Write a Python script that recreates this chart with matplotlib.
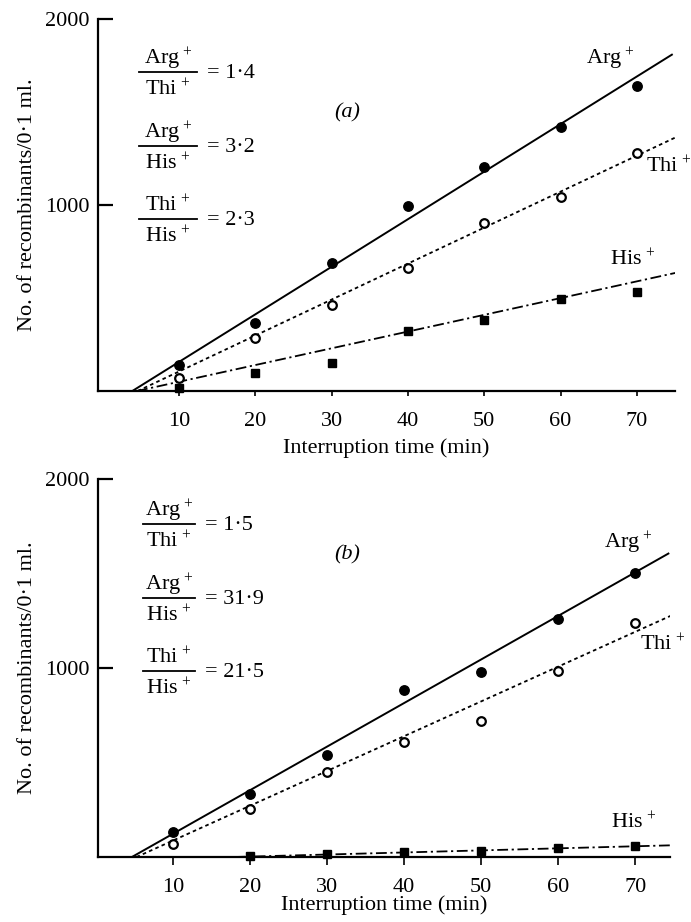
import matplotlib
matplotlib.use("Agg")
import matplotlib.pyplot as plt

plt.rcParams['font.family'] = ['Liberation Serif', 'DejaVu Serif']
plt.rcParams['mathtext.fontset'] = 'custom'
plt.rcParams['mathtext.rm'] = 'Liberation Serif'
plt.rcParams['mathtext.it'] = 'Liberation Serif:italic'

# ---- data ----
times = [10, 20, 30, 40, 50, 60, 70]
xtick_vals = [10, 20, 30, 40, 50, 60, 70]
ytick_vals = [1000, 2000]

a_arg = [140, 368, 686, 995, 1205, 1422, 1638]
a_thi = [70, 287, 460, 660, 903, 1043, 1281]
a_his = [15, 97, 151, 324, 384, 492, 530]
a_arg_fit_x, a_arg_fit_y = [3.9, 74.7], [0, 1811]
a_thi_fit_x, a_thi_fit_y = [4.6, 75.0], [0, 1362]
a_his_fit_x, a_his_fit_y = [4.5, 75.4], [0, 638]
a_ratios = [("Arg", "Thi", "1·4"), ("Arg", "His", "3·2"), ("Thi", "His", "2·3")]

b_arg = [133, 333, 540, 884, 979, 1259, 1503]
b_thi = [69, 254, 450, 608, 720, 984, 1238]
b_his_times = [20, 30, 40, 50, 60, 70]
b_his = [5, 16, 26, 32, 48, 58]
b_arg_fit_x, b_arg_fit_y = [4.7, 74.4], [0, 1608]
b_thi_fit_x, b_thi_fit_y = [5.3, 74.8], [0, 1280]
b_his_fit_x, b_his_fit_y = [18, 74.8], [0, 62]
b_ratios = [("Arg", "Thi", "1·5"), ("Arg", "His", "31·9"), ("Thi", "His", "21·5")]

W, H = 691, 922
fig = plt.figure(figsize=(W / 100, H / 100), dpi=100)


def px_ax(l, r, t, b):
    return fig.add_axes([l / W, 1 - b / H, (r - l) / W, (b - t) / H])


FS = 16
SUP = r"$^{\,+}$"


def style(ax, xlim, xlabelpad, xtlen):
    ax.set_xlim(*xlim)
    ax.set_ylim(0, 2000)
    for s in ['top', 'right']:
        ax.spines[s].set_visible(False)
    for s in ['left', 'bottom']:
        ax.spines[s].set_linewidth(1.6)
    ax.set_xticks(xtick_vals)
    ax.set_yticks(ytick_vals)
    ax.tick_params(axis='y', direction='in', length=11, width=1.6, labelsize=FS, pad=6)
    ax.tick_params(axis='x', direction='out', length=xtlen, width=1.2, labelsize=FS,
                   pad=15 - xtlen)
    ax.set_xlabel("Interruption time (min)", fontsize=FS, labelpad=xlabelpad)
    ax.set_ylabel("No. of recombinants/0·1 ml.", fontsize=FS, labelpad=6)


def ratios(items, bars_px, xl, xr, eq_x):
    for (n, d, v), by in zip(items, bars_px):
        cx = (xl + xr) / 2
        fig.text(cx / W, 1 - (by - 8) / H, n + SUP, ha='center', va='baseline', fontsize=FS)
        fig.text(cx / W, 1 - (by + 23) / H, d + SUP, ha='center', va='baseline', fontsize=FS)
        fig.add_artist(plt.Line2D([xl / W, xr / W], [1 - by / H, 1 - by / H], color='black', lw=1.3))
        fig.text(eq_x / W, 1 - (by + 6) / H, "= " + v, ha='left', va='baseline', fontsize=FS)


def panel(ax, arg, thi, his_t, his, afx, afy, tfx, tfy, hfx, hfy):
    ax.plot(afx, afy, color='black', lw=1.4, solid_capstyle='butt')
    ax.plot(tfx, tfy, color='black', lw=1.3, dashes=(2, 1.8))
    ax.plot(hfx, hfy, color='black', lw=1.3, dashes=(6, 2, 1.2, 2))
    ax.plot(times, arg, 'o', color='black', ms=6.8, clip_on=False, zorder=5)
    ax.plot(times, thi, 'o', mfc='white', mec='black', mew=1.6, ms=6.2, clip_on=False, zorder=5)
    ax.plot(his_t, his, 's', color='black', ms=5.7, clip_on=False, zorder=5)


# panel (a)
ax1 = px_ax(98, 675, 19, 391)
style(ax1, (-0.6, 75.0), 5, 3.5)
panel(ax1, a_arg, a_thi, times, a_his, a_arg_fit_x, a_arg_fit_y,
      a_thi_fit_x, a_thi_fit_y, a_his_fit_x, a_his_fit_y)
ax1.text(66.6, 1784, "Arg" + SUP, ha='center', va='center', fontsize=FS)
ax1.text(74.1, 1205, "Thi" + SUP, ha='center', va='center', fontsize=FS, clip_on=False)
ax1.text(69.5, 703, "His" + SUP, ha='center', va='center', fontsize=FS)
ax1.text(32, 1497, "(a)", ha='center', va='center', fontsize=FS, style='italic')
ratios(a_ratios, [72, 146, 219], 139, 197, 207)

# panel (b)
ax2 = px_ax(98, 670, 479, 857)
style(ax2, (0.3, 74.5), -1, 5.5)
panel(ax2, b_arg, b_thi, b_his_times, b_his, b_arg_fit_x, b_arg_fit_y,
      b_thi_fit_x, b_thi_fit_y, b_his_fit_x, b_his_fit_y)
ax2.text(69.1, 1661, "Arg" + SUP, ha='center', va='center', fontsize=FS)
ax2.text(73.5, 1122, "Thi" + SUP, ha='center', va='center', fontsize=FS, clip_on=False)
ax2.text(69.8, 180, "His" + SUP, ha='center', va='center', fontsize=FS)
ax2.text(32.6, 1598, "(b)", ha='center', va='center', fontsize=FS, style='italic')
ratios(b_ratios, [524, 598, 671], 143, 195, 205)

fig.savefig("out.png", dpi=100)
